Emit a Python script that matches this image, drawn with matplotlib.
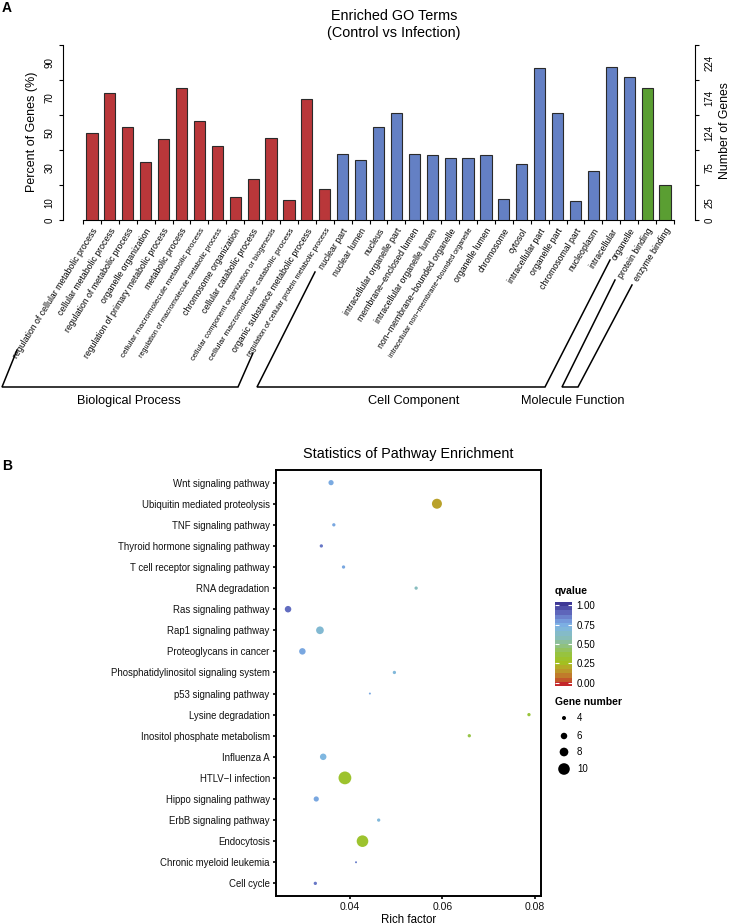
import numpy as np
import matplotlib
matplotlib.use('Agg')
import matplotlib.pyplot as plt
from matplotlib.colors import LinearSegmentedColormap, Normalize
from matplotlib.ticker import FixedLocator, FixedFormatter

plt.rcParams['font.family'] = ['Liberation Sans', 'DejaVu Sans']

# ---------------- Panel A data ----------------
bp_terms = ["regulation of cellular metabolic process", "cellular metabolic process",
            "regulation of metabolic process", "organelle organization",
            "regulation of primary metabolic process", "metabolic process",
            "cellular macromolecule metabolic process", "regulation of macromolecule metabolic process",
            "chromosome organization", "cellular catabolic process",
            "cellular component organization or biogenesis", "cellular macromolecule catabolic process",
            "organic substance metabolic process", "regulation of cellular protein metabolic process"]
bp_pct = [49.7, 72.5, 53.0, 33.1, 46.1, 75.3, 56.4, 42.1, 13.0, 23.7, 46.8, 11.5, 69.4, 17.8]

cc_terms = ["nuclear part", "nuclear lumen", "nucleus", "intracellular organelle part",
            "membrane\u2212enclosed lumen", "intracellular organelle lumen",
            "non\u2212membrane\u2212bounded organelle",
            "intracellular non\u2212membrane\u2212bounded organelle", "organelle lumen",
            "chromosome", "cytosol", "intracellular part", "organelle part",
            "chromosomal part", "nucleoplasm", "intracellular", "organelle"]
cc_pct = [38.0, 34.4, 53.0, 61.0, 37.7, 36.9, 35.2, 35.2, 36.9, 12.2, 32.1, 86.6, 61.0,
          10.7, 27.9, 87.4, 81.8]

mf_terms = ["protein binding", "enzyme binding"]
mf_pct = [75.3, 19.9]

group_names = ["Biological Process", "Cell Component", "Molecule Function"]
left_tick_labels = ["0", "10", "30", "50", "70", "90"]
right_tick_labels = ["0", "25", "75", "124", "174", "224"]
label_tick_values = [0, 10, 30, 50, 70, 90]
axis_tick_values = [0, 20, 40, 60, 80, 100]

# ---------------- Panel B data ----------------
pathways = ["Wnt signaling pathway", "Ubiquitin mediated proteolysis", "TNF signaling pathway",
            "Thyroid hormone signaling pathway", "T cell receptor signaling pathway",
            "RNA degradation", "Ras signaling pathway", "Rap1 signaling pathway",
            "Proteoglycans in cancer", "Phosphatidylinositol signaling system",
            "p53 signaling pathway", "Lysine degradation", "Inositol phosphate metabolism",
            "Influenza A", "HTLV\u2212I infection", "Hippo signaling pathway",
            "ErbB signaling pathway", "Endocytosis", "Chronic myeloid leukemia", "Cell cycle"]
rich_factor = [0.0359, 0.0588, 0.0365, 0.0338, 0.0386, 0.0543, 0.0266, 0.0335, 0.0297, 0.0496,
               0.0443, 0.0787, 0.0658, 0.0342, 0.0389, 0.0327, 0.0462, 0.0427, 0.0413, 0.0325]
qvalue = [0.75, 0.18, 0.76, 0.86, 0.76, 0.60, 0.88, 0.66, 0.76, 0.68,
          0.76, 0.36, 0.38, 0.70, 0.32, 0.76, 0.68, 0.32, 0.85, 0.86]
gene_number = [5, 9, 3, 3, 3, 3, 6, 7, 6, 3, 2, 3, 3, 6, 11, 5, 3, 10, 2, 3]
size_breaks = [4, 6, 8, 10]
q_breaks = [0.0, 0.25, 0.5, 0.75, 1.0]

# ---------------- styling ----------------
W, H = 729, 924
fig = plt.figure(figsize=(W / 100, H / 100), dpi=100)


def fx(x):
    return x / W


def fy(y):
    return 1 - y / H


RED, BLUE, GREEN = "#B9373A", "#6480C4", "#5A9E32"

# ================= Panel A =================
terms = bp_terms + cc_terms + mf_terms
pct = bp_pct + cc_pct + mf_pct
colors = [RED] * len(bp_terms) + [BLUE] * len(cc_terms) + [GREEN] * len(mf_terms)
n = len(terms)
xs = np.arange(n)

axA = fig.add_axes([fx(63), fy(220), (695 - 63) / W, 175 / H])
axA.bar(xs, pct, width=0.62, color=colors, edgecolor="#2a2a2a", linewidth=0.8, zorder=3)
ppu = (674 - 83) / n
axA.set_xlim(-0.5 - 20 / ppu, n - 0.5 + 21 / ppu)
axA.set_ylim(0, 100)
axA.spines['top'].set_visible(False)
axA.spines['right'].set_visible(False)
axA.spines['left'].set_bounds(0, 100)
axA.spines['bottom'].set_bounds(-0.5, n - 0.5)
for s in ['left', 'bottom']:
    axA.spines[s].set_linewidth(0.8)
axA.set_xticks(np.arange(-0.5, n, 1.0))
axA.set_xticklabels([])
axA.tick_params(axis='x', length=3.2, width=0.8)
axA.yaxis.remove_overlapping_locs = False
axA.set_yticks(axis_tick_values)
axA.set_yticklabels([])
axA.tick_params(axis='y', which='major', length=3.2, width=0.8)
axA.yaxis.set_minor_locator(FixedLocator(label_tick_values))
axA.yaxis.set_minor_formatter(FixedFormatter(left_tick_labels))
axA.tick_params(axis='y', which='minor', length=0, pad=6, labelsize=7)
for t in axA.yaxis.get_minorticklabels():
    t.set_rotation(90)
    t.set_va('center')

axR = axA.twinx()
axR.set_ylim(0, 100)
for s in ['top', 'left', 'bottom']:
    axR.spines[s].set_visible(False)
axR.spines['right'].set_bounds(0, 100)
axR.spines['right'].set_linewidth(0.8)
axR.yaxis.remove_overlapping_locs = False
axR.set_yticks(axis_tick_values)
axR.set_yticklabels([])
axR.tick_params(axis='y', which='major', length=3.2, width=0.8)
axR.yaxis.set_minor_locator(FixedLocator(label_tick_values))
axR.yaxis.set_minor_formatter(FixedFormatter(right_tick_labels))
axR.tick_params(axis='y', which='minor', length=0, pad=7, labelsize=7)
for t in axR.yaxis.get_minorticklabels():
    t.set_rotation(90)
    t.set_va('center')

fig.text(fx(32), fy(132), "Percent of Genes (%)", rotation=90, ha='center', va='center', fontsize=9)
fig.text(fx(724.5), fy(131), "Number of Genes", rotation=90, ha='center', va='center', fontsize=8.8)
fig.text(fx(394), fy(16), "Enriched GO Terms", ha='center', va='center', fontsize=10.4)
fig.text(fx(394), fy(33), "(Control vs Infection)", ha='center', va='center', fontsize=10.4)
fig.text(fx(2), fy(8), "A", ha='left', va='center', fontsize=10, fontweight='bold')

# rotated category labels, shrunk to fit a max length
renderer = fig.canvas.get_renderer()
BASE_FS = 6.3
MAX_LEN = 152
ANG = 58
for i, term in enumerate(terms):
    t = axA.annotate(term, xy=(i, 0), xycoords='data', xytext=(2.5, -6.5),
                     textcoords='offset points', rotation=ANG, ha='right', va='center',
                     rotation_mode='anchor', fontsize=BASE_FS)
    t.set_rotation(0)
    w = t.get_window_extent(renderer).width
    if w > MAX_LEN:
        t.set_fontsize(BASE_FS * MAX_LEN / w)
    t.set_rotation(ANG)

# decoration overlay (brackets, legends)
deco = fig.add_axes([0, 0, 1, 1])
deco.set_xlim(0, W)
deco.set_ylim(H, 0)
deco.axis('off')

brackets = [
    [(17, 350), (2, 387), (238, 387), (253, 353)],
    [(315, 272), (257, 387), (545, 387), (610, 260)],
    [(615, 280), (562, 387), (578, 387), (632, 285)],
]
for br in brackets:
    bx, by = zip(*br)
    deco.plot(bx, by, color='black', linewidth=1.1, solid_joinstyle='miter')
group_label_x = [129, 414, 573]
for name, gx in zip(group_names, group_label_x):
    deco.text(gx, 401, name, ha='center', va='center', fontsize=9.2)

# ================= Panel B =================
cmap = LinearSegmentedColormap.from_list("q", [
    (0.00, "#C4262A"), (0.06, "#C2602A"), (0.12, "#C0882C"), (0.19, "#B8A52A"),
    (0.27, "#A2C220"), (0.36, "#98C43A"), (0.46, "#92C278"), (0.58, "#88BEB8"),
    (0.72, "#7EB6E6"), (0.80, "#7598DA"), (0.90, "#5E64BA"), (1.00, "#3E3896")])
norm = Normalize(0, 1)


def diam_px(g):
    return np.interp(g, [2, 3, 4, 5, 6, 7, 8, 9, 10, 11],
                     [2.0, 3.3, 4.0, 5.2, 6.5, 7.7, 8.7, 10.0, 11.6, 12.8])


def area_pt2(g):
    return (diam_px(np.asarray(g, dtype=float)) * 0.72) ** 2


npw = len(pathways)
ys = np.arange(npw)[::-1]
axB = fig.add_axes([fx(276), fy(896), 265 / W, 426 / H])
axB.scatter(rich_factor, ys, s=area_pt2(gene_number), c=qvalue, cmap=cmap, norm=norm,
            edgecolors='none', zorder=3)
lo, hi = min(rich_factor), max(rich_factor)
pad = 0.05 * (hi - lo)
axB.set_xlim(lo - pad, hi + pad)
axB.set_ylim(-0.6, npw - 0.4)
axB.set_yticks(ys)
axB.set_yticklabels(pathways, fontsize=6.9, color='#111111')
axB.set_xticks([0.04, 0.06, 0.08])
axB.set_xticklabels(["0.04", "0.06", "0.08"], fontsize=7.5, color='#111111')
axB.tick_params(axis='both', length=2.5, width=1.2, pad=2)
for s in axB.spines.values():
    s.set_linewidth(1.4)
axB.set_xlabel("Rich factor", fontsize=8.3, labelpad=1)
fig.text(fx(408), fy(454), "Statistics of Pathway Enrichment", ha='center', va='center', fontsize=10.4)
fig.text(fx(2), fy(466), "B", ha='left', va='center', fontsize=10, fontweight='bold')

# qvalue colorbar (banded, like ggplot's nbin)
cax = fig.add_axes([fx(555), fy(686), 17 / W, 84 / H])
nb = 20
cax.imshow(np.linspace(0, 1, nb)[:, None], cmap=cmap, norm=norm, origin='lower',
           aspect='auto', extent=[0, 1, -0.04, 1.04], interpolation='nearest')
cax.set_xlim(0, 1)
cax.set_ylim(-0.04, 1.04)
cax.set_xticks([])
cax.yaxis.tick_right()
cax.set_yticks(q_breaks)
cax.set_yticklabels(["%.2f" % q for q in q_breaks])
for s in cax.spines.values():
    s.set_visible(False)
cax.tick_params(axis='y', which='both', left=True, right=True, direction='in', color='white',
                length=3, width=0.8, labelsize=7, pad=3)
deco.text(555, 591, "qvalue", ha='left', va='center', fontsize=7.5, fontweight='bold')

# gene number legend
deco.text(555, 702, "Gene number", ha='left', va='center', fontsize=7.5, fontweight='bold')
leg_y = [718, 736, 752, 769]
deco.scatter([564] * len(size_breaks), leg_y, s=area_pt2(size_breaks), color='black',
             edgecolors='none')
for g, yy in zip(size_breaks, leg_y):
    deco.text(577, yy, str(g), ha='left', va='center', fontsize=7)

fig.savefig("out.png", dpi=100)
